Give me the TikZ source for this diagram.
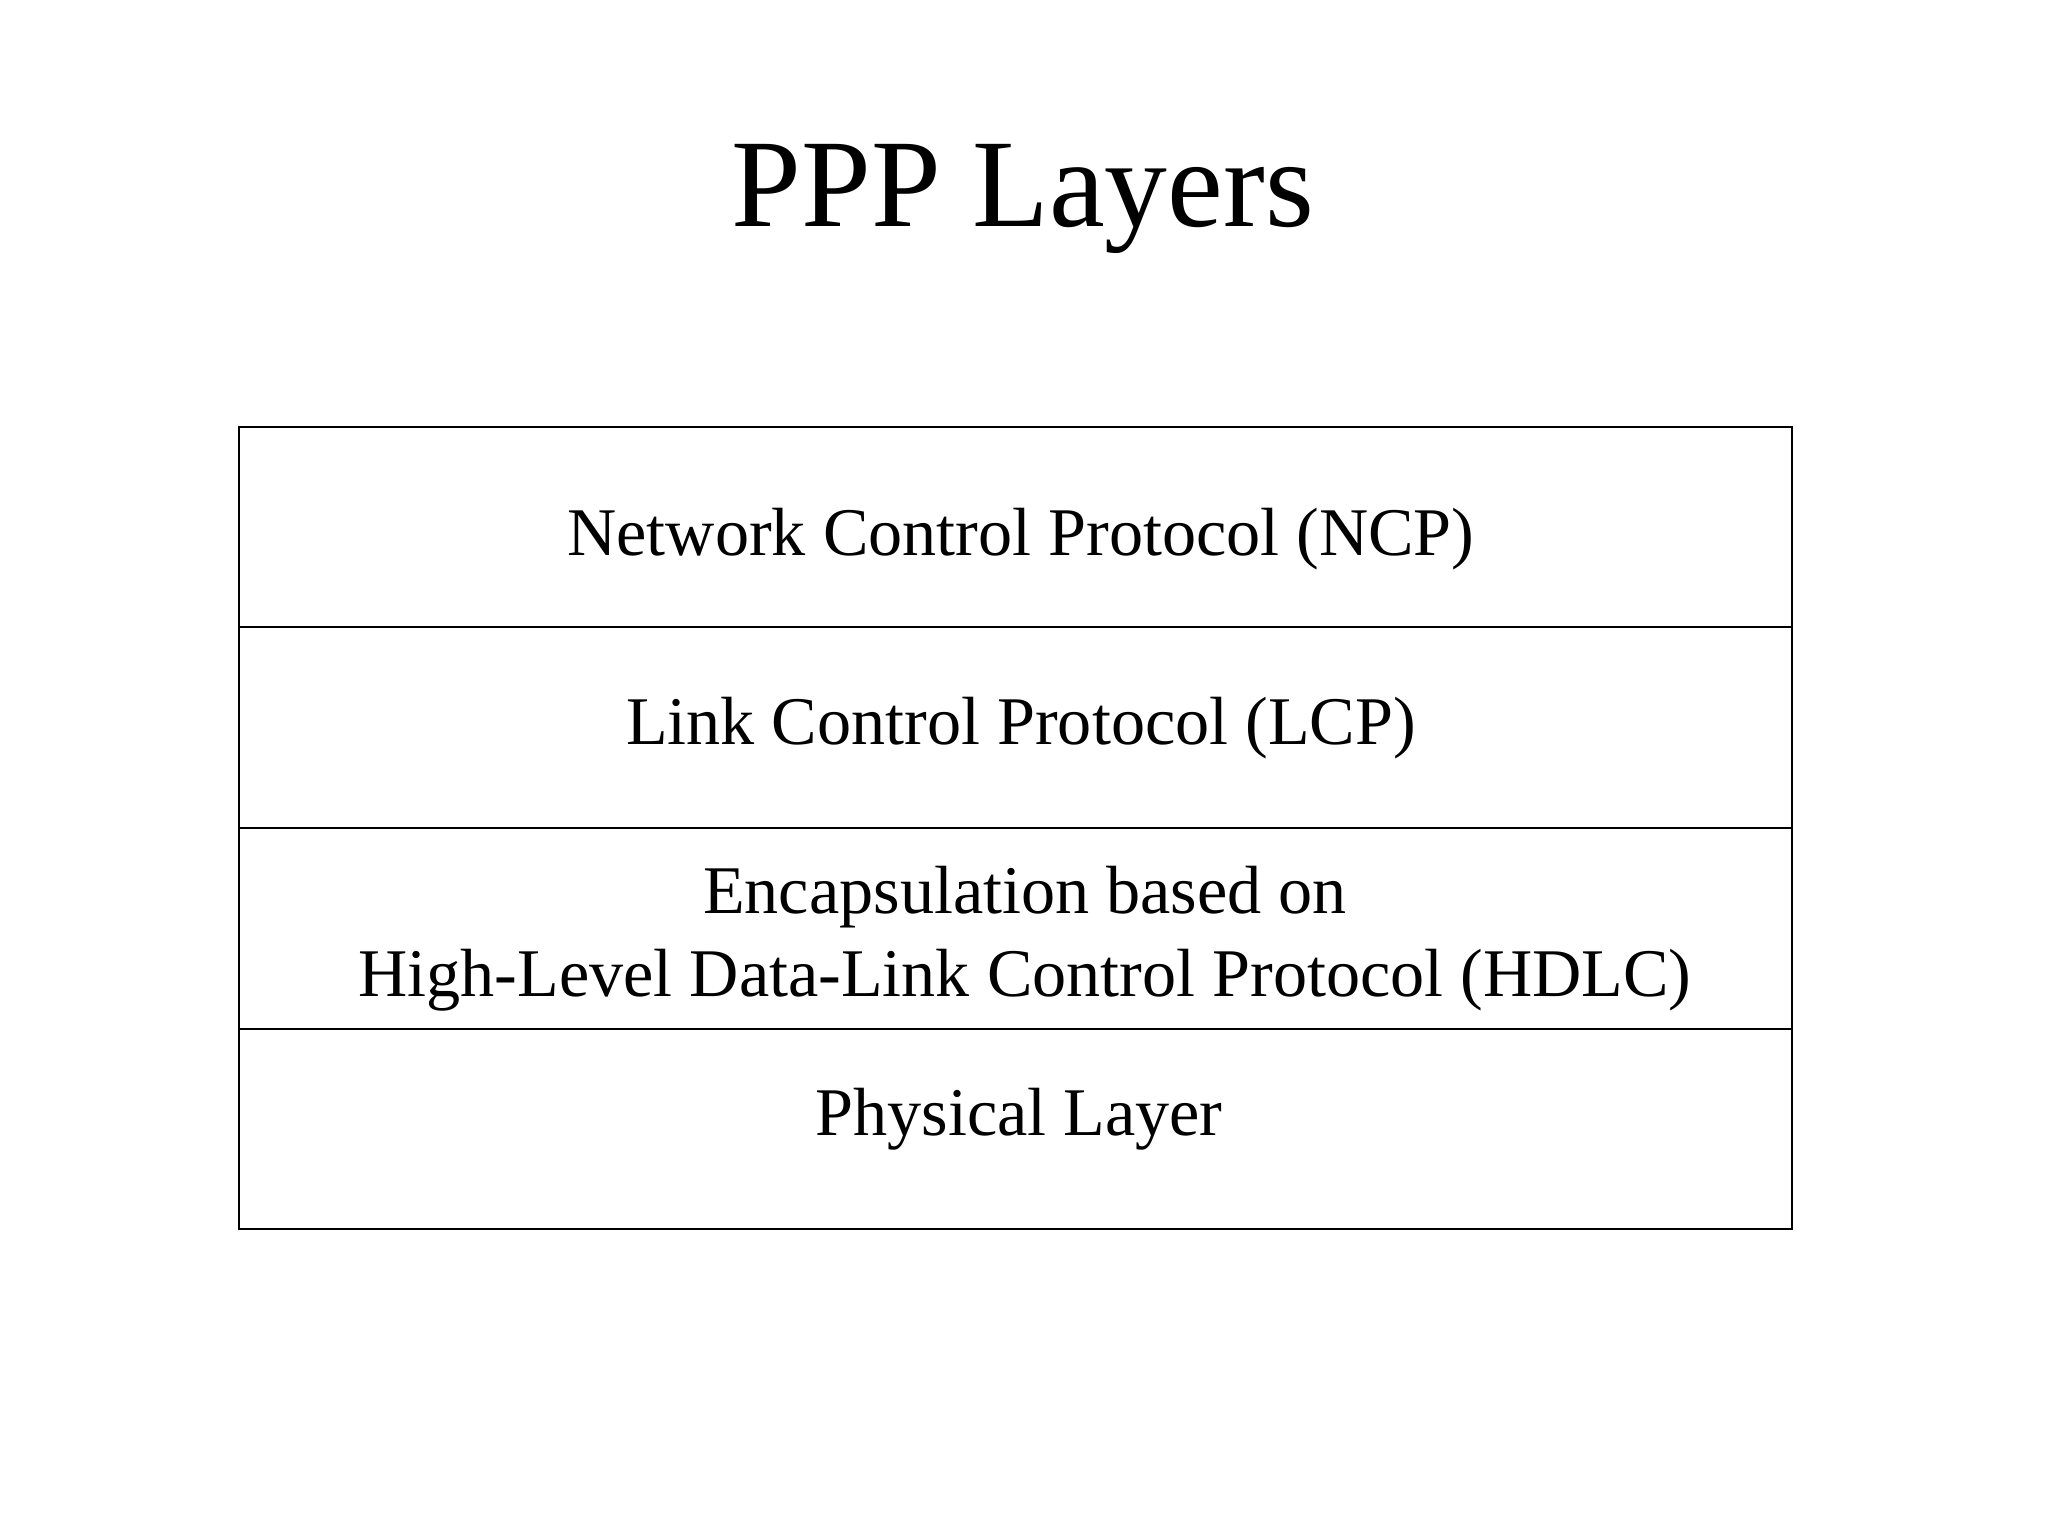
\documentclass[tikz,border=0pt]{standalone}
\usepackage{fontspec}
\setmainfont{Liberation Serif}
\usepackage{tikz}
\usetikzlibrary{positioning}

\tikzset{
    layer/.style={draw, line width=0.6pt, minimum width=15.53cm, minimum height=2.007cm, inner sep=0pt, outer sep=0pt},
    layertext/.style={font=\fontsize{19.4}{23.5}\selectfont, anchor=base, align=center, inner sep=0pt}
}

\begin{document}
\begin{tikzpicture}
    \useasboundingbox (0,0) rectangle (20.48,15.36);

    \node[font=\fontsize{35.7}{43}\selectfont, anchor=base] (title) at (10.23, 13.09) {PPP Layers};

    % stack of layers
    \node[layer] (ncp) at (10.155, 10.09) {};
    \node[layer, below=0pt of ncp] (lcp) {};
    \node[layer, below=0pt of lcp] (hdlc) {};
    \node[layer, below=0pt of hdlc] (phy) {};

    \node[layertext] (ncptxt) at (10.21, 9.80) {Network Control Protocol (NCP)};
    \node[layertext] (lcptxt) at (10.21, 7.915) {Link Control Protocol (LCP)};
    \node[layertext] (hdlctxt1) at (10.25, 6.22) {Encapsulation based on};
    \node[layertext] (hdlctxt2) at (10.25, 5.395) {High-Level Data-Link Control Protocol (HDLC)};
    \node[layertext] (phytxt) at (10.19, 4.00) {Physical Layer};

\end{tikzpicture}
\end{document}
